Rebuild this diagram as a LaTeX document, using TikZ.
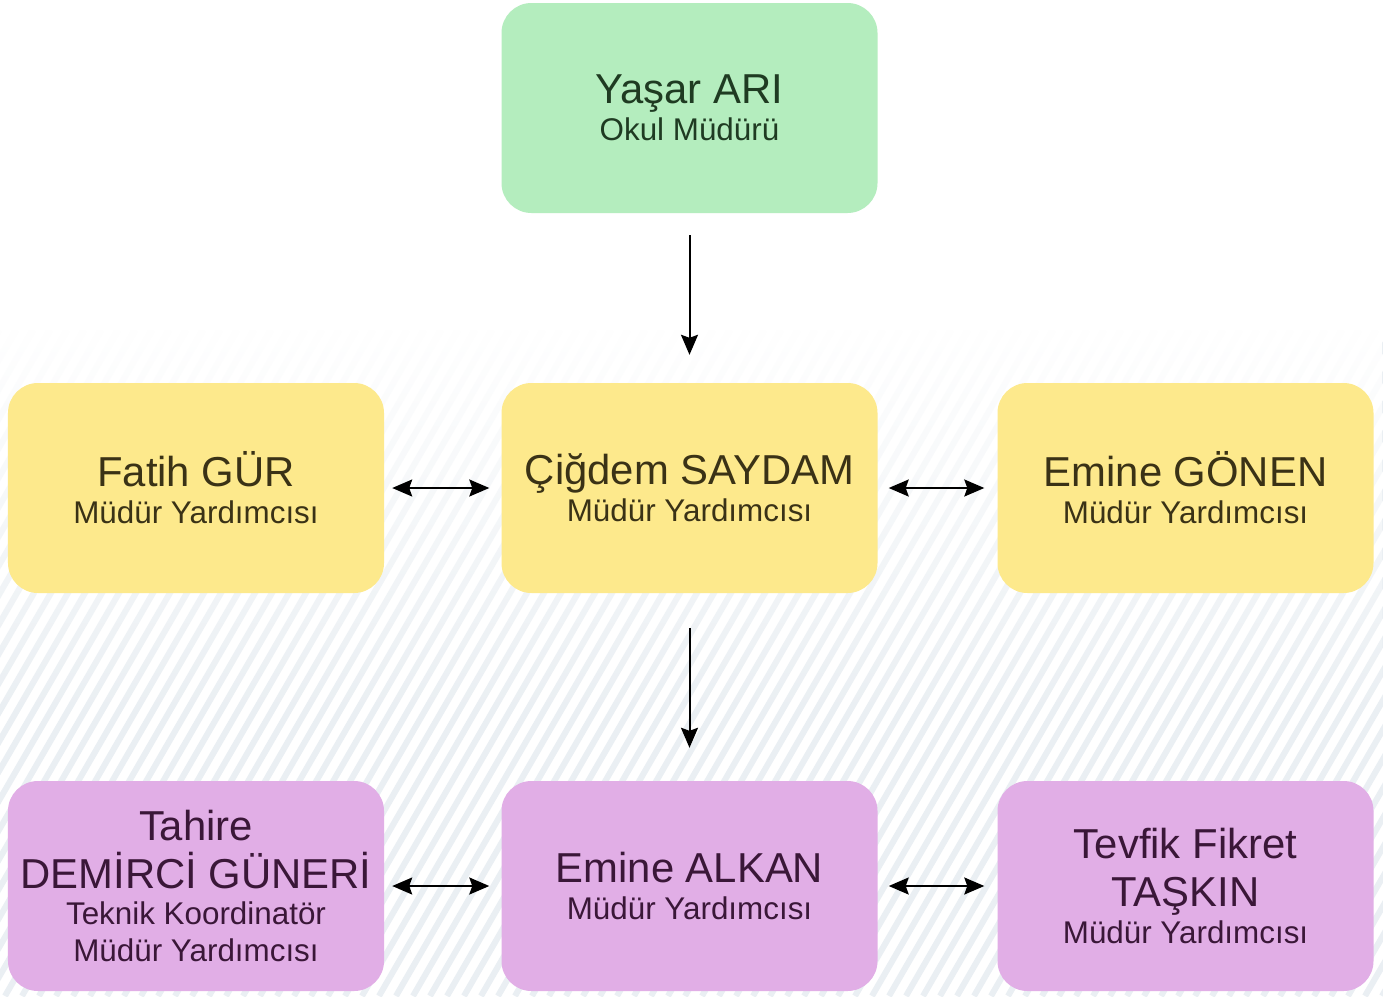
\documentclass[tikz,border=0pt]{standalone}
\usepackage{fontspec}
\setmainfont{Liberation Sans}
\usetikzlibrary{arrows.meta,fadings}
\definecolor{greenbox}{HTML}{B4EDBE}
\definecolor{yellowbox}{HTML}{FDE98C}
\definecolor{purplebox}{HTML}{E1AEE6}
\definecolor{greentext}{HTML}{1F3B22}
\definecolor{yellowtext}{HTML}{3A3216}
\definecolor{purpletext}{HTML}{3A1738}
\definecolor{stripe}{HTML}{EAEFF3}
\newcommand{\namefont}{\fontsize{42}{48}\selectfont\spaceskip=\fontdimen2\font\relax}
\newcommand{\subfont}{\fontsize{31.5}{37}\selectfont\spaceskip=\fontdimen2\font\relax}
\tikzset{
  box/.style={rounded corners=30bp, minimum width=376bp, minimum height=210bp,
    text width=376bp, inner sep=0pt, align=center},
  gbox/.style={box, fill=greenbox, text=greentext},
  ybox/.style={box, fill=yellowbox, text=yellowtext},
  pbox/.style={box, fill=purplebox, text=purpletext},
  tip/.tip={Stealth[length=20bp,width=17bp,inset=3bp]},
  arr/.style={line width=2bp, -tip},
  darr/.style={line width=2bp, tip-tip},
}
\begin{document}
\begin{tikzpicture}[x=1bp,y=-1bp]
\useasboundingbox (0,0) rectangle (1383,996);
\fill[white] (0,0) rectangle (1383,996);
% background stripes
\begin{scope}
  \clip (0,330) rectangle (1383,996);
  \foreach \i in {-420,-403,...,1400} {
    \draw[stripe, line width=6bp] (\i,996) -- ({\i+385},330);
  }
\end{scope}
\fill[white, path fading=south] (0,328) rectangle (1383,720);
% boxes
\node[gbox] (yasar) at (689.5,108) {{\namefont Yaşar ARI\par}{\subfont Okul Müdürü\par}};
\node[ybox] (fatih) at (196,488) {{\namefont Fatih GÜR\par}{\subfont Müdür Yardımcısı\par}};
\node[ybox] (cigdem) at (689.5,488) {{\namefont Çiğdem SAYDAM\par}{\subfont Müdür Yardımcısı\par}};
\node[ybox] (emineg) at (1185.5,488) {{\namefont Emine GÖNEN\par}{\subfont Müdür Yardımcısı\par}};
\node[pbox] (tahire) at (196,886) {{\namefont Tahire\par DEMİRCİ GÜNERİ\par}{\subfont Teknik Koordinatör\par Müdür Yardımcısı\par}};
\node[pbox] (eminea) at (689.5,886) {{\namefont Emine ALKAN\par}{\subfont Müdür Yardımcısı\par}};
\node[pbox] (tevfik) at (1185.5,886) {{\namefont Tevfik Fikret\par TAŞKIN\par}{\subfont Müdür Yardımcısı\par}};
% connectors
\draw[arr, shorten <=22bp, shorten >=28bp] (yasar) -- (cigdem);
\draw[arr, shorten <=35bp, shorten >=33bp] (cigdem) -- (eminea);
\draw[darr, shorten <=8bp, shorten >=12bp] (fatih) -- (cigdem);
\draw[darr, shorten <=11bp, shorten >=13bp] (cigdem) -- (emineg);
\draw[darr, shorten <=8bp, shorten >=12bp] (tahire) -- (eminea);
\draw[darr, shorten <=11bp, shorten >=13bp] (eminea) -- (tevfik);
\end{tikzpicture}
\end{document}
